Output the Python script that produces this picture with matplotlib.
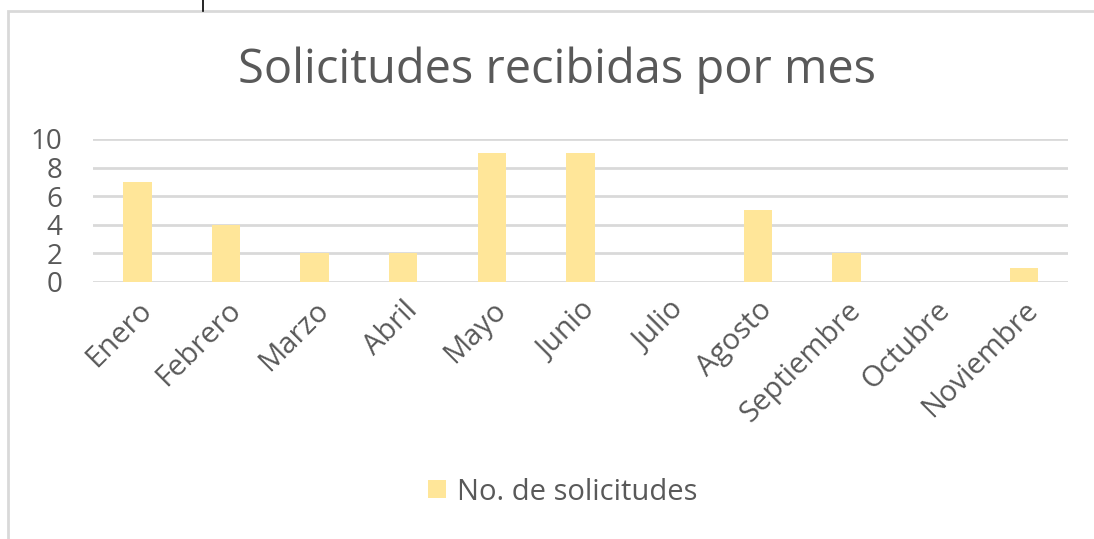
import matplotlib.pyplot as plt
from matplotlib.patches import Rectangle
from matplotlib.lines import Line2D

months = ['Enero', 'Febrero', 'Marzo', 'Abril', 'Mayo', 'Junio', 'Julio',
          'Agosto', 'Septiembre', 'Octubre', 'Noviembre']
solicitudes = [7, 4, 2, 2, 9, 9, 0, 5, 2, 0, 1]
yticks = [0, 2, 4, 6, 8, 10]

plt.rcParams['font.family'] = ['Open Sans', 'DejaVu Sans']
text_color = '#595959'

fig = plt.figure(figsize=(10.94, 5.39), dpi=100)
ax = fig.add_axes([93 / 1094, 1 - 282 / 539, (1068 - 93) / 1094, (282 - 139) / 539])

x = range(len(months))
ax.bar(x, solicitudes, width=0.32, color='#FFE699', label='No. de solicitudes', zorder=3)
ax.set_xlim(-0.5, len(months) - 0.5)
ax.set_ylim(0, 10)
ax.set_yticks(yticks)
ax.yaxis.grid(True, color='#D9D9D9', linewidth=2)
ax.set_axisbelow(True)
for s in ax.spines.values():
    s.set_visible(False)
ax.tick_params(length=0, labelsize=20, colors=text_color)
ax.tick_params(axis='y', pad=22)
ax.set_xticks(list(x))
ax.set_xticklabels(months, rotation=45, ha='right', rotation_mode='anchor', fontsize=21)
ax.tick_params(axis='x', pad=10)

fig.text(557 / 1094, 1 - 70 / 539, 'Solicitudes recibidas por mes', ha='center', va='center',
         fontsize=33.8, color=text_color)

leg = fig.legend(loc='center', bbox_to_anchor=(563 / 1094, 1 - 492 / 539), frameon=False,
                 fontsize=21, labelcolor=text_color, handlelength=0.6, handleheight=0.6,
                 handletextpad=0.4)

# chart border
fig.patches.append(Rectangle((8 / 1094, -0.01), 1.1, 1 - 11 / 539 + 0.01, transform=fig.transFigure,
                             fill=False, edgecolor='#D9D9D9', linewidth=2))
fig.lines.append(Line2D([203 / 1094, 203 / 1094], [1 - 11 / 539, 1], transform=fig.transFigure,
                        color='black', linewidth=1.2))

fig.savefig('out.png', dpi=100)
